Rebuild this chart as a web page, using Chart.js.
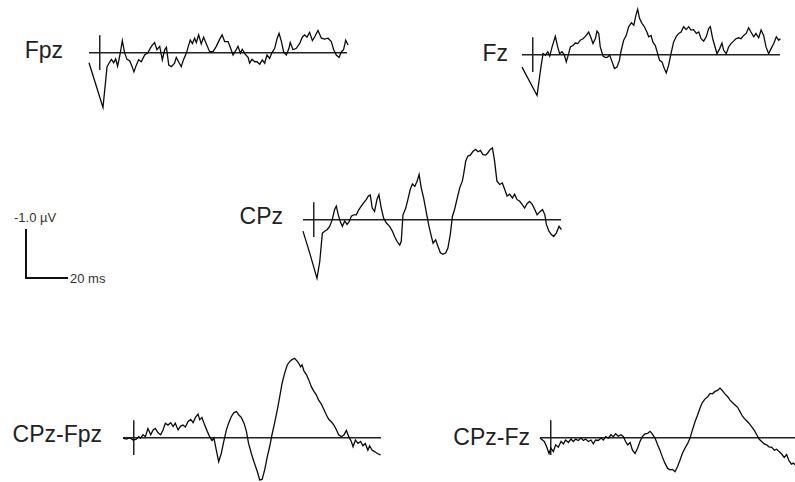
<!DOCTYPE html>
<html>
<head>
<meta charset="utf-8">
<script src="https://cdn.jsdelivr.net/npm/chart.js@4.4.1/dist/chart.umd.min.js"></script>
<style>
  html, body { margin: 0; padding: 0; background: #fff; }
  body { width: 795px; height: 482px; position: relative; overflow: hidden;
         font-family: 'Liberation Sans', Arial, sans-serif; }
  .lbl { position: absolute; font-size: 23px; line-height: 23px; color: #222; white-space: nowrap; text-align: right; }
  .small { position: absolute; font-size: 13px; line-height: 13px; color: #333; white-space: nowrap; }
  .bar { position: absolute; background: #111; }
  .wrap { position: absolute; }
</style>
</head>
<body>
<div class="bar" style="left:25px;top:229px;width:2px;height:50px"></div>
<div class="bar" style="left:25px;top:277px;width:43px;height:2px"></div>
<div class="small" style="left:14px;top:211px">-1.0 µV</div>
<div class="small" style="left:70px;top:272px">20 ms</div>

<script>
// Epoch (ms) and amplitude window (µV); negative is plotted upward.
const epochMs = [-5, 115];
const windowUv = [-1.8, 1.4];
const onsetMarkUv = 0.36;

// Fpz
const fpzMs = [-5,1.5,3.4,4.3,5.4,6.5,7.4,8.3,9.3,10.5,11.6,12.7,13.9,14.8,15.9,17.0,18.1,19.3,20.9,22.4,24.0,25.5,26.6,27.9,29.1,30.2,31.0,32.1,33.3,34.8,35.6,36.9,37.9,39.0,40.3,41.2,42.1,43.1,44.1,44.9,46.0,47.2,48.3,49.6,51.1,52.7,54.2,55.8,56.9,58.1,59.7,60.7,62.0,63.2,64.3,65.4,66.3,67.6,69.0,69.7,70.8,72.1,73.1,74.4,75.6,76.7,77.8,79.0,80.1,81.4,82.4,83.4,84.5,85.5,86.8,88.0,88.6,89.9,91.4,93.0,94.2,95.3,96.4,97.6,98.9,100.0,101.5,103.1,104.6,106.2,107.7,108.8,110.0,111.3,112.4,113.4,114.4,115.5];
const fpzUv = [0.21,1.14,0.29,0.22,0.14,0.21,0.13,0.28,0.07,-0.25,0.01,0.14,0.17,0.26,0.40,0.26,0.15,0.19,0.05,0.00,-0.13,-0.21,-0.06,-0.13,0.15,-0.06,-0.11,0.26,0.29,0.22,0.10,0.21,0.29,0.14,0.01,-0.13,-0.26,-0.19,-0.30,-0.21,-0.37,-0.18,-0.32,-0.18,-0.02,-0.02,-0.13,-0.28,-0.37,-0.23,-0.23,-0.11,0.05,-0.04,-0.13,0.01,-0.07,0.03,0.10,0.22,0.14,0.19,0.19,0.24,0.15,0.22,0.05,0.12,0.00,-0.09,-0.28,-0.40,-0.23,-0.02,0.05,-0.09,-0.21,-0.06,-0.09,-0.19,-0.32,-0.37,-0.32,-0.42,-0.25,-0.33,-0.46,-0.30,-0.28,-0.30,-0.23,-0.06,0.05,0.10,-0.02,-0.06,-0.26,-0.16];

// Fz
const fzMs = [-5,2.0,3.8,4.8,5.9,7.0,7.9,9.0,10.5,11.6,12.5,13.6,14.7,15.6,16.7,17.5,18.7,19.8,20.9,22.1,23.4,24.5,26.0,27.1,28.0,29.1,29.9,30.7,31.4,32.7,33.8,34.8,35.8,36.9,38.0,39.2,40.3,41.0,42.3,43.5,44.6,45.9,47.0,48.0,48.8,49.7,50.8,51.9,53.1,53.9,55.0,55.9,57.0,58.1,59.0,60.1,61.2,62.1,63.2,64.3,65.5,66.8,67.9,69.0,70.2,71.4,72.5,73.6,74.8,76.1,77.2,78.3,79.5,80.7,81.8,82.6,83.7,84.6,85.7,86.9,88.0,88.8,90.0,91.1,92.2,93.4,94.5,95.8,96.9,98.1,99.3,100.4,101.5,102.8,103.8,105.1,106.2,107.4,108.5,109.7,110.8,112.1,113.3,114.4,115.2];
const fzUv = [0.26,0.85,0.26,-0.02,0.01,-0.06,0.03,-0.16,-0.38,-0.16,-0.02,-0.06,0.01,0.15,-0.02,-0.16,-0.19,-0.24,-0.23,-0.30,-0.33,-0.38,-0.47,-0.35,-0.23,-0.33,-0.49,-0.44,-0.16,0.03,0.06,0.05,0.01,0.15,0.29,0.26,0.12,-0.06,-0.30,-0.40,-0.58,-0.66,-0.61,-0.82,-0.94,-0.75,-0.65,-0.58,-0.47,-0.37,-0.40,-0.26,-0.19,-0.02,0.12,0.15,0.29,0.38,0.22,-0.02,-0.26,-0.38,-0.44,-0.47,-0.58,-0.52,-0.58,-0.51,-0.52,-0.44,-0.47,-0.33,-0.28,-0.37,-0.54,-0.58,-0.33,-0.19,-0.02,-0.12,-0.24,-0.09,-0.02,-0.16,-0.23,-0.28,-0.33,-0.35,-0.33,-0.40,-0.44,-0.56,-0.47,-0.37,-0.44,-0.35,-0.51,-0.40,-0.16,-0.02,-0.12,-0.23,-0.37,-0.30,-0.33];

// CPz
const cpzMs = [-5,-1.9,1.5,2.8,4.0,5.1,6.2,7.4,8.6,9.7,10.5,11.4,12.4,13.3,14.4,15.5,16.4,17.5,18.6,19.8,21.0,22.1,23.2,24.5,25.4,26.3,27.2,28.3,29.4,30.3,31.4,32.5,33.8,35.3,36.6,37.6,38.7,40.0,40.7,41.5,42.8,43.8,44.9,45.9,47.0,48.1,49.0,50.0,51.1,52.4,53.6,54.7,55.5,56.7,57.8,58.9,60.1,61.4,62.4,63.5,64.5,65.5,66.6,67.9,69.1,69.7,70.7,71.7,72.8,74.1,75.3,76.4,77.5,78.7,80.0,81.0,82.1,83.1,84.1,85.2,86.5,87.7,88.8,89.9,91.1,92.4,93.4,94.5,95.8,97.0,98.1,99.2,100.4,101.7,102.8,103.9,105.1,106.4,107.5,108.2,109.4,110.5,111.6,112.8,114.1,115.2];
const cpzUv = [0.24,0.69,1.22,0.87,0.28,0.24,0.21,0.14,0.00,-0.21,-0.28,-0.10,0.05,0.14,0.03,0.10,0.05,-0.07,-0.10,-0.10,-0.21,-0.28,-0.35,-0.42,-0.49,-0.51,-0.24,-0.17,-0.42,-0.52,-0.24,-0.03,0.07,0.14,0.24,0.35,0.45,0.53,0.45,-0.10,-0.24,-0.42,-0.63,-0.74,-0.69,-0.80,-0.94,-0.66,-0.45,-0.14,0.14,0.35,0.49,0.42,0.56,0.69,0.72,0.69,0.59,0.31,-0.07,-0.21,-0.42,-0.66,-0.80,-0.94,-1.22,-1.32,-1.34,-1.42,-1.46,-1.41,-1.44,-1.35,-1.34,-1.39,-1.46,-1.49,-1.22,-0.80,-0.73,-0.76,-0.63,-0.49,-0.53,-0.45,-0.53,-0.42,-0.38,-0.31,-0.24,-0.33,-0.38,-0.31,-0.21,-0.10,-0.16,-0.21,-0.10,0.10,0.24,0.31,0.35,0.28,0.14,0.21];

// CPz-Fpz difference wave
const cpzFpzMs = [-5,-3.4,-1.9,-0.3,1.2,2.3,3.2,4.3,5.4,6.6,7.9,9.0,10.0,11.3,12.5,13.6,14.7,15.9,17.2,18.3,19.3,20.6,21.8,22.9,24.0,25.2,26.5,27.6,28.7,29.9,30.7,31.7,33.0,34.2,35.3,36.4,37.3,38.4,39.5,40.7,42.0,43.1,44.1,45.4,46.6,47.8,48.9,50.0,51.3,52.4,53.4,54.7,55.9,57.5,58.6,59.7,60.9,62.1,63.2,64.3,65.5,66.8,67.9,69.0,70.2,71.4,72.5,73.6,74.8,75.8,76.7,77.6,78.3,79.2,80.3,81.4,82.6,83.8,84.9,86.0,87.2,88.5,89.6,90.7,91.9,93.1,94.2,95.3,96.6,97.8,98.9,100.0,101.2,102.0,103.1,104.3,105.5,106.6,107.7,108.9,109.7,110.8,112.0,113.3,114.8];
const cpzFpzUv = [0.01,0.03,0.00,0.05,0.03,-0.02,0.01,-0.06,-0.02,-0.19,-0.06,-0.16,-0.19,-0.10,-0.06,-0.16,-0.30,-0.26,-0.31,-0.23,-0.30,-0.16,-0.24,-0.26,-0.22,-0.33,-0.38,-0.31,-0.42,-0.49,-0.37,-0.42,-0.26,-0.13,-0.02,0.06,0.01,0.26,0.50,0.33,0.05,-0.16,-0.30,-0.44,-0.52,-0.54,-0.47,-0.42,-0.30,-0.13,0.12,0.33,0.50,0.71,0.88,0.87,0.67,0.40,0.19,-0.06,-0.30,-0.58,-0.85,-1.13,-1.34,-1.51,-1.58,-1.62,-1.65,-1.60,-1.55,-1.47,-1.51,-1.38,-1.31,-1.20,-1.06,-0.96,-0.89,-0.78,-0.70,-0.58,-0.47,-0.38,-0.33,-0.26,-0.17,-0.06,-0.02,-0.06,-0.15,-0.02,0.08,0.19,0.05,0.12,0.08,0.17,0.12,0.26,0.17,0.26,0.29,0.33,0.36];

// CPz-Fz difference wave
const cpzFzMs = [-5,-3.0,-1.9,-0.8,0.1,1.2,2.3,3.5,4.8,5.9,6.9,8.2,9.4,10.5,11.6,12.8,14.1,15.2,16.2,17.5,18.7,19.8,20.9,22.1,23.4,24.5,25.5,26.8,28.0,29.1,30.2,31.4,32.7,33.8,34.8,35.8,36.9,38.0,39.2,40.4,41.5,42.6,43.8,45.1,46.2,47.2,48.5,49.7,50.8,51.9,53.1,54.4,55.5,56.6,57.8,59.0,60.1,61.2,62.4,63.7,64.8,65.9,67.1,68.3,69.4,70.5,71.7,73.0,74.1,75.2,76.4,77.6,78.7,79.8,81.0,82.3,83.4,84.5,85.7,86.9,88.0,89.1,90.0,91.1,92.2,93.4,94.7,95.8,96.9,98.1,99.3,100.4,101.5,102.8,104.0,105.1,106.2,107.4,108.6,109.7,110.8,112.0,112.8,114.9];
const cpzFzUv = [0.01,0.08,0.19,0.33,0.22,0.29,0.15,0.20,0.08,0.13,0.05,0.10,0.03,0.08,0.03,0.06,0.01,0.06,0.03,0.08,0.05,0.13,0.05,0.06,0.01,0.05,-0.02,0.01,-0.06,-0.02,-0.08,-0.03,-0.06,-0.02,0.08,0.15,0.10,0.26,0.33,0.22,0.08,-0.02,-0.08,-0.09,-0.13,-0.08,0.01,0.15,0.26,0.40,0.53,0.64,0.67,0.66,0.71,0.60,0.47,0.33,0.22,0.12,0.01,-0.16,-0.33,-0.47,-0.61,-0.73,-0.80,-0.85,-0.92,-0.91,-0.96,-0.98,-1.03,-0.98,-0.91,-0.85,-0.78,-0.73,-0.68,-0.63,-0.54,-0.45,-0.40,-0.35,-0.30,-0.23,-0.15,-0.06,0.03,0.08,0.13,0.15,0.19,0.20,0.26,0.24,0.29,0.34,0.41,0.35,0.48,0.55,0.53,0.60];

// Panel placement on the page: left edge of the epoch, y of the zero line, label anchor.
const panels = [
  { name: 'Fpz',     ms: fpzMs,     uv: fpzUv,     left: 89,  zero: 52.7,  labelRight: 63,  labelBase: 58 },
  { name: 'Fz',      ms: fzMs,      uv: fzUv,      left: 522, zero: 54.3,  labelRight: 508, labelBase: 61 },
  { name: 'CPz',     ms: cpzMs,     uv: cpzUv,     left: 303, zero: 220,   labelRight: 283, labelBase: 224 },
  { name: 'CPz-Fpz', ms: cpzFpzMs,  uv: cpzFpzUv,  left: 123, zero: 437.7, labelRight: 102, labelBase: 442 },
  { name: 'CPz-Fz',  ms: cpzFzMs,   uv: cpzFzUv,   left: 540, zero: 437.7, labelRight: 530, labelBase: 445 }
];

const PLOT_W = 258, PLOT_H = 154, PAD = 6;
const FONT_PX = 23, BASELINE_OFF = 19.5;

// Zero line plus a short vertical mark at stimulus onset.
const zeroLinePlugin = {
  id: 'zeroLine',
  beforeDatasetsDraw(chart) {
    const { ctx, scales: { x, y } } = chart;
    ctx.save();
    ctx.strokeStyle = '#222';
    ctx.lineWidth = 1.5;
    ctx.beginPath();
    ctx.moveTo(x.getPixelForValue(epochMs[0]), y.getPixelForValue(0));
    ctx.lineTo(x.getPixelForValue(epochMs[1]), y.getPixelForValue(0));
    ctx.stroke();
    ctx.beginPath();
    ctx.moveTo(x.getPixelForValue(0), y.getPixelForValue(-onsetMarkUv));
    ctx.lineTo(x.getPixelForValue(0), y.getPixelForValue(onsetMarkUv));
    ctx.stroke();
    ctx.restore();
  }
};

const zeroFromTop = PLOT_H * (0 - windowUv[0]) / (windowUv[1] - windowUv[0]);

panels.forEach(p => {
  const lbl = document.createElement('div');
  lbl.className = 'lbl';
  lbl.textContent = p.name;
  lbl.style.right = (795 - p.labelRight) + 'px';
  lbl.style.top = (p.labelBase - BASELINE_OFF) + 'px';
  document.body.appendChild(lbl);

  const wrap = document.createElement('div');
  wrap.className = 'wrap';
  wrap.style.left = (p.left - PAD) + 'px';
  wrap.style.top = (p.zero - zeroFromTop - PAD) + 'px';
  const cv = document.createElement('canvas');
  cv.width = PLOT_W + 2 * PAD;
  cv.height = PLOT_H + 2 * PAD;
  cv.style.width = cv.width + 'px';
  cv.style.height = cv.height + 'px';
  wrap.appendChild(cv);
  document.body.appendChild(wrap);

  const n = Math.min(p.ms.length, p.uv.length);
  const pts = [];
  for (let i = 0; i < n; i++) pts.push({ x: p.ms[i], y: p.uv[i] });

  new Chart(cv, {
    type: 'line',
    data: { datasets: [{ data: pts, borderColor: '#0a0a0a', borderWidth: 1.3,
                         pointRadius: 0, tension: 0, fill: false, clip: false }] },
    options: {
      responsive: false, animation: false, devicePixelRatio: 1,
      layout: { padding: PAD },
      parsing: false,
      scales: {
        x: { type: 'linear', min: epochMs[0], max: epochMs[1], display: false },
        y: { type: 'linear', min: windowUv[0], max: windowUv[1], reverse: true, display: false }
      },
      plugins: { legend: { display: false }, tooltip: { enabled: false } }
    },
    plugins: [zeroLinePlugin]
  });
});
</script>
</body>
</html>
